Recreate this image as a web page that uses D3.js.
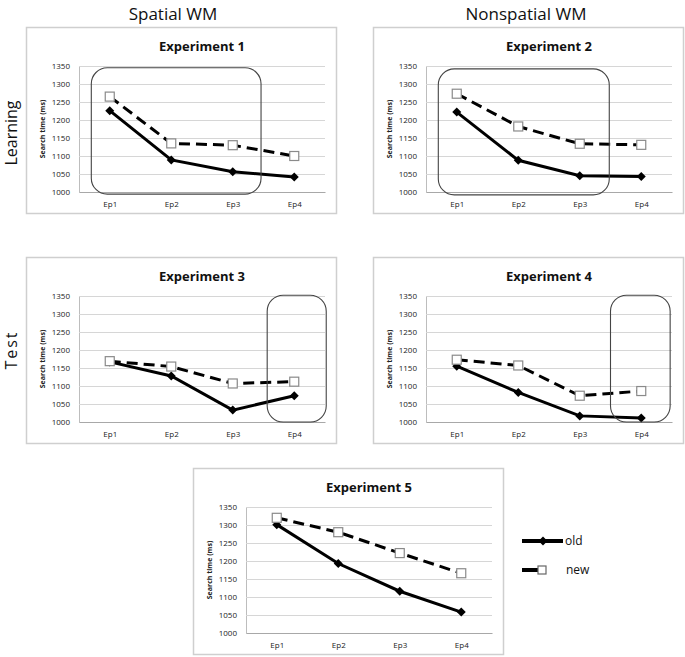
<!DOCTYPE html>
<html>
<head>
<meta charset="utf-8">
<script src="https://cdn.jsdelivr.net/npm/d3@7/dist/d3.min.js"></script>
<style>
  html, body { margin: 0; padding: 0; background: #fff; }
  svg { display: block; }
  text { font-family: "Open Sans", "Liberation Sans", sans-serif; }
</style>
</head>
<body>
<svg id="chart" width="685" height="657"></svg>
<script>
// ---------- data ----------
const categories = ["Ep1", "Ep2", "Ep3", "Ep4"];
const yTicks = [1000, 1050, 1100, 1150, 1200, 1250, 1300, 1350];
const experiments = ["Experiment 1", "Experiment 2", "Experiment 3", "Experiment 4", "Experiment 5"];
const oldValues = [
  [1226, 1089, 1056, 1042],
  [1222, 1088, 1045, 1043],
  [1167, 1128, 1033, 1073],
  [1155, 1082, 1017, 1011],
  [1301, 1193, 1116, 1058]
];
const newValues = [
  [1265, 1135, 1130, 1100],
  [1273, 1182, 1134, 1131],
  [1169, 1154, 1107, 1112],
  [1173, 1157, 1073, 1086],
  [1320, 1280, 1222, 1166]
];
// highlighted region per panel: category index range and value range (null = none)
const highlightFrom = [-0.3, -0.3, 2.56, 2.5, null];
const highlightTo   = [2.46, 2.48, 3.52, 3.47, null];
const highlightLo   = [994, 992, 1000, 1000, null];
const highlightHi   = [1345, 1342, 1352, 1352, null];
const columnHeaders = ["Spatial WM", "Nonspatial WM"];
const rowHeaders = ["Learning", "Test"];
const seriesNames = ["old", "new"];

// ---------- layout ----------
const panelPos = [[26, 27], [373, 27], [26, 257], [373, 257], [193, 468]];
const PW = 310, PH = 186;
const M = { left: 53, right: 11, top: 39, bottom: 21 };

const svg = d3.select("#chart");

// headers
svg.selectAll("text.colhead").data(columnHeaders).join("text")
  .attr("class", "colhead")
  .attr("x", (d, i) => i === 0 ? 173 : 526)
  .attr("y", 20)
  .attr("text-anchor", "middle")
  .attr("font-size", 17)
  .attr("fill", "#111")
  .text(d => d);

svg.selectAll("text.rowhead").data(rowHeaders).join("text")
  .attr("class", "rowhead")
  .attr("transform", (d, i) => `translate(${17},${i === 0 ? 133 : 350}) rotate(-90)`)
  .attr("text-anchor", "middle")
  .attr("font-size", 16)
  .attr("letter-spacing", (d, i) => i === 1 ? 2 : 0)
  .attr("fill", "#111")
  .text(d => d);

experiments.forEach((name, i) => {
  const [px, py] = panelPos[i];
  const g = svg.append("g").attr("transform", `translate(${px},${py})`);

  g.append("rect")
    .attr("x", 0.5).attr("y", 0.5)
    .attr("width", PW).attr("height", PH)
    .attr("fill", "#fff")
    .attr("stroke", "#cfcfcf")
    .attr("stroke-width", 1.5);

  const x = d3.scalePoint().domain(categories)
    .range([M.left, PW - M.right]).padding(0.5);
  const y = d3.scaleLinear().domain([1000, 1350])
    .range([PH - M.bottom - 0, M.top]);

  // gridlines
  g.append("g")
    .attr("transform", `translate(${M.left},0)`)
    .call(d3.axisLeft(y).tickValues(yTicks).tickSize(-(PW - M.left - M.right)).tickFormat(""))
    .call(a => a.select(".domain").attr("stroke", "#bdbdbd"))
    .call(a => a.selectAll(".tick line").attr("stroke", "#d6d6d6").attr("stroke-width", 1.2));

  // y tick labels
  g.append("g")
    .attr("transform", `translate(${M.left},0)`)
    .call(d3.axisLeft(y).tickValues(yTicks).tickSize(0).tickPadding(9).tickFormat(d3.format("d")))
    .call(a => a.select(".domain").remove())
    .call(a => a.selectAll("text").attr("font-size", 8).attr("fill", "#222")
      .attr("font-family", "'Open Sans', sans-serif"));

  // x axis
  g.append("g")
    .attr("transform", `translate(0,${y(1000)})`)
    .call(d3.axisBottom(x).tickSize(0).tickPadding(9))
    .call(a => a.select(".domain").attr("stroke", "#a8a8a8").attr("stroke-width", 1.2))
    .call(a => a.selectAll("text").attr("font-size", 8).attr("fill", "#222")
      .attr("font-family", "'Open Sans', sans-serif"));

  // title
  g.append("text")
    .attr("x", (x("Ep1") + x("Ep4")) / 2)
    .attr("y", 24)
    .attr("text-anchor", "middle")
    .attr("font-size", 13)
    .attr("font-weight", "bold")
    .attr("fill", "#111")
    .text(name);

  // y label
  g.append("text")
    .attr("transform", `translate(${19},${(y(1000) + y(1350)) / 2}) rotate(-90)`)
    .attr("text-anchor", "middle")
    .attr("font-size", 7)
    .attr("font-weight", "bold")
    .attr("fill", "#222")
    .text("Search time (ms)");

  const line = d3.line().x((d, j) => x(categories[j])).y(d => y(d));

  // new series (dashed, white squares)
  g.append("path")
    .datum(newValues[i])
    .attr("d", line)
    .attr("fill", "none")
    .attr("stroke", "#000")
    .attr("stroke-width", 3)
    .attr("stroke-dasharray", "11,6");

  // old series (solid, diamonds)
  g.append("path")
    .datum(oldValues[i])
    .attr("d", line)
    .attr("fill", "none")
    .attr("stroke", "#000")
    .attr("stroke-width", 3);

  g.selectAll("path.dia").data(oldValues[i]).join("path")
    .attr("class", "dia")
    .attr("transform", (d, j) => `translate(${x(categories[j])},${y(d)})`)
    .attr("d", "M0,-4.5L4.5,0L0,4.5L-4.5,0Z")
    .attr("fill", "#000");

  g.selectAll("rect.sq").data(newValues[i]).join("rect")
    .attr("class", "sq")
    .attr("x", (d, j) => x(categories[j]) - 4.5)
    .attr("y", d => y(d) - 4.5)
    .attr("width", 9).attr("height", 9)
    .attr("fill", "#fff")
    .attr("stroke", "#8a8a8a")
    .attr("stroke-width", 1.2);

  // highlight box
  if (highlightFrom[i] !== null) {
    const step = x.step();
    const x0 = x("Ep1") + highlightFrom[i] * step;
    const x1 = x("Ep1") + highlightTo[i] * step;
    const y0 = y(highlightHi[i]);
    const y1 = y(highlightLo[i]);
    g.append("rect")
      .attr("x", x0).attr("y", y0)
      .attr("width", x1 - x0).attr("height", y1 - y0)
      .attr("rx", 16).attr("ry", 16)
      .attr("fill", "none")
      .attr("stroke", "#444")
      .attr("stroke-width", 1.1);
  }
});

// legend
const lg = svg.append("g").attr("transform", "translate(522,541)");
// old
lg.append("line").attr("x1", 0).attr("x2", 41).attr("y1", 0).attr("y2", 0)
  .attr("stroke", "#000").attr("stroke-width", 4);
lg.append("path").attr("transform", "translate(21,0)")
  .attr("d", "M0,-4.5L4.5,0L0,4.5L-4.5,0Z").attr("fill", "#000");
lg.append("text").attr("x", 43).attr("y", 4).attr("font-size", 12).attr("fill", "#111").text(seriesNames[0]);
// new
lg.append("line").attr("x1", 0).attr("x2", 16).attr("y1", 29).attr("y2", 29)
  .attr("stroke", "#000").attr("stroke-width", 4);
lg.append("rect").attr("x", 16).attr("y", 25).attr("width", 8).attr("height", 8)
  .attr("fill", "#fff").attr("stroke", "#666").attr("stroke-width", 1.2);
lg.append("text").attr("x", 44).attr("y", 33).attr("font-size", 12).attr("fill", "#111").text(seriesNames[1]);
</script>
</body>
</html>
